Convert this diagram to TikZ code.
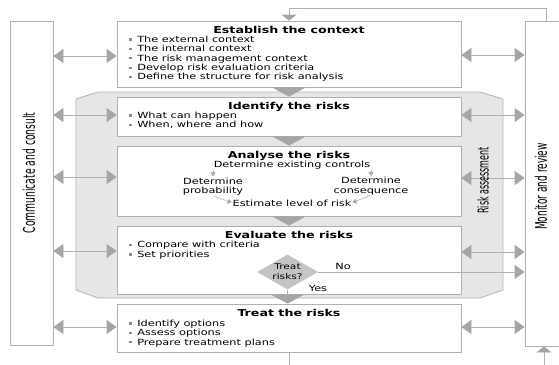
\documentclass[tikz,border=0pt]{standalone}
\usepackage{fontspec}
\setmainfont[FakeStretch=1.33]{DejaVu Sans}
\newfontfamily\rotfont{DejaVu Sans}
\usetikzlibrary{arrows.meta,shapes.geometric,calc}
\definecolor{lineg}{HTML}{B0B0B0}
\definecolor{tipg}{HTML}{A6A6A6}
\definecolor{regfill}{HTML}{E6E6E6}
\definecolor{regdraw}{HTML}{B4B4B4}
\definecolor{diafill}{HTML}{C4C4C4}
\definecolor{bulg}{HTML}{8C8C8C}
\newcommand\bul{\textcolor{bulg}{\rule[1.6pt]{3pt}{2.2pt}}\hspace{5.5pt}}
\begin{document}
\begin{tikzpicture}[x=1pt,y=-1pt,
  box/.style={draw=lineg, line width=0.8pt, fill=white, rectangle, inner sep=0pt},
  ttl/.style={font=\bfseries\fontsize{9.5}{11}\selectfont, inner sep=0pt, anchor=base},
  lst/.style={font=\fontsize{8.5}{9.4}\selectfont, align=left, inner sep=0pt, anchor=north west},
  txt/.style={font=\fontsize{8.5}{9.4}\selectfont, align=center, inner sep=0pt},
  rot/.style={rotate=90, inner sep=0pt, font=\rotfont\fontsize{10}{12}\selectfont},
  ln/.style={draw=lineg, line width=0.8pt},
  dbl/.style={ln, {Triangle[length=10pt,width=14pt,color=tipg]}-{Triangle[length=10pt,width=14pt,color=tipg]}},
  one/.style={ln, -{Triangle[length=10pt,width=14pt,color=tipg]}},
  fbk/.style={ln, -{Triangle[length=6pt,width=15pt,color=tipg]}},
  sm/.style={draw=lineg, line width=0.6pt, -{Triangle[length=4pt,width=5pt,color=tipg]}, shorten <=1pt, shorten >=1pt},
  chev/.style={fill=tipg},
  dia/.style={diamond, fill=diafill, inner sep=0pt, aspect=1.75, minimum width=61pt, minimum height=35pt, font=\fontsize{8}{10}\selectfont, align=center}
]
\useasboundingbox (0,0) rectangle (559,364);
\clip (0,0) rectangle (559,364);
\fill[white] (0,0) rectangle (559,364);

% side boxes
\node[box, minimum width=43pt, minimum height=324pt] (cc) at (31.5,183) {};
\node[box, minimum width=60pt, minimum height=325pt] (mon) at (555,183.5) {};

% risk assessment region
\filldraw[fill=regfill, draw=regdraw, line width=0.8pt]
  (76,99) -- (98,92) -- (480,92) -- (503,99) -- (503,290) -- (480,298) -- (98,298) -- (76,290) -- cycle;

% main boxes
\node[box, minimum width=344pt, minimum height=66pt] (est) at (289,54) {};
\node[box, minimum width=344pt, minimum height=39pt] (idf) at (289,116.5) {};
\node[box, minimum width=344pt, minimum height=70pt] (ana) at (289,181) {};
\node[box, minimum width=344pt, minimum height=68pt] (eva) at (289,260) {};
\node[box, minimum width=344pt, minimum height=48pt] (trt) at (289,328) {};

% titles
\node[ttl] (estT) at ($(est.north)+(0,12.5)$) {Establish the context};
\node[ttl] (idfT) at ($(idf.north)+(0,12.5)$) {Identify the risks};
\node[ttl] (anaT) at ($(ana.north)+(0,12.5)$) {Analyse the risks};
\node[ttl] (evaT) at ($(eva.north)+(0,12.5)$) {Evaluate the risks};
\node[ttl] (trtT) at ($(trt.north)+(0,12.5)$) {Treat the risks};

% bullet lists
\node[lst] (estL) at ($(est.north west)+(12,15)$) {\bul The external context\\\bul The internal context\\\bul The risk management context\\\bul Develop risk evaluation criteria\\\bul Define the structure for risk analysis};
\node[lst] (idfL) at ($(idf.north west)+(12,15)$) {\bul What can happen\\\bul When, where and how};
\node[lst] (evaL) at ($(eva.north west)+(12,15.5)$) {\bul Compare with criteria\\\bul Set priorities};
\node[lst] (trtL) at ($(trt.north west)+(12,16)$) {\bul Identify options\\\bul Assess options\\\bul Prepare treatment plans};

% analyse internals
\node[txt] (dec) at (292,165) {Determine existing controls};
\node[txt] (dp) at (213,186.5) {Determine\\probability};
\node[txt] (dc) at (371,186) {Determine\\consequence};
\node[txt] (elr) at (292,203) {Estimate level of risk};
\draw[sm] (dec.south west -| dp.north) -- (dp.north);
\draw[sm] (dec.south east -| dc.north) -- (dc.north);
\draw[sm] (dp.south) -- (elr.west);
\draw[sm] (dc.south) -- (elr.east);

% chevrons
\fill[chev] ($(est.south)+(-17,0)$) -- ($(est.south)+(17,0)$) -- (idf.north) -- cycle;
\fill[chev] ($(idf.south)+(-17,0)$) -- ($(idf.south)+(17,0)$) -- (ana.north) -- cycle;
\fill[chev] ($(ana.south)+(-17,0)$) -- ($(ana.south)+(17,0)$) -- (eva.north) -- cycle;

% decision
\node[dia] (dia) at (287.5,272) {Treat\\risks?};
\draw[ln] (dia.south) -- (dia.south |- eva.south);
\fill[chev] ($(dia.south |- eva.south)+(-17,0)$) -- ($(dia.south |- eva.south)+(17,0)$) -- (dia.south |- trt.north) -- cycle;
\draw[one] (dia.east) -- (dia.east -| mon.west);
\node[txt] (nol) at (343,266) {No};
\node[txt] (yesl) at (318,288) {Yes};

% communicate arrows
\draw[dbl] (cc.east |- 0,56) -- (est.west |- 0,56);
\draw[dbl] (cc.east |- 0,115) -- (idf.west |- 0,115);
\draw[dbl] (cc.east |- 0,177) -- (ana.west |- 0,177);
\draw[dbl] (cc.east |- 0,251) -- (eva.west |- 0,251);
\draw[dbl] (cc.east |- 0,327) -- (trt.west |- 0,327);

% monitor arrows
\draw[dbl] (est.east |- 0,55) -- (mon.west |- 0,55);
\draw[dbl] (idf.east |- 0,115) -- (mon.west |- 0,115);
\draw[dbl] (ana.east |- 0,178) -- (mon.west |- 0,178);
\draw[dbl] (eva.east |- 0,252) -- (mon.west |- 0,252);
\draw[dbl] (trt.east |- 0,327) -- (mon.west |- 0,327);

% feedback loops
\coordinate (fbR) at (546,8);
\draw[fbk] (mon.north -| fbR) -- (fbR) -| (est.north);
\coordinate (bt1) at (289,366);
\draw[ln] (trt.south) -- (trt.south |- bt1);
\coordinate (bt2) at (544,366);
\draw[fbk] (bt2) -- (bt2 |- mon.south);

% rotated labels
\node[rot] (cclbl) at (29,173) {\scalebox{0.92}[1.6]{Communicate and consult}};
\node[rot] (ralbl) at (483,180.5) {\scalebox{0.8}[1.5]{Risk assessment}};
\node[rot] (monlbl) at (541,186.5) {\scalebox{0.9}[1.6]{Monitor and review}};
\end{tikzpicture}
\end{document}
